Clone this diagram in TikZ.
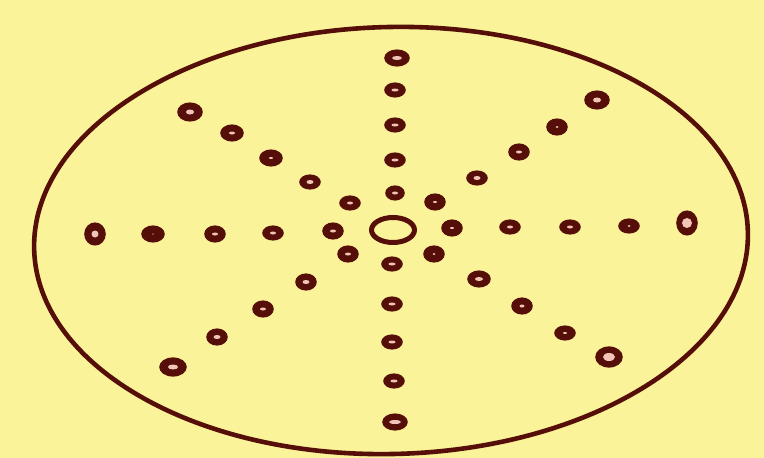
\documentclass[tikz,border=0pt]{standalone}
\definecolor{bg}{HTML}{FAF39A}
\definecolor{ink}{HTML}{560F08}
\definecolor{hl}{HTML}{F2C4B8}
\tikzset{
  plate/.style={draw=ink, line width=4.6pt},
  holefill/.style={fill=ink},
  shine/.style={fill=hl},
  ring/.style={draw=ink, line width=5pt}
}
% \hole{x}{y}{rx}{ry}{highlight rx}{highlight ry}
\newcommand{\hole}[6]{%
  \fill[holefill] (#1,-#2) ellipse [x radius=#3+0.8, y radius=#4+0.6];
  \fill[shine] (#1,-#2) ellipse [x radius=#5, y radius=#6];
}
\begin{document}
\begin{tikzpicture}[x=1pt,y=1pt]
\useasboundingbox (0,0) rectangle (764,-458);
\fill[bg] (0,0) rectangle (764,-458);
% plate outline
\draw[plate, rotate around={1.4:(391,-240)}] (391,-240.5) ellipse [x radius=357, y radius=213.5];
% centre ring
\draw[ring] (393,-230) ellipse [x radius=21.5, y radius=12.5];
% vertical axis
\hole{397}{58}{12}{8}{5}{2}
\hole{395}{90}{10}{7}{3.5}{1.5}
\hole{395}{125}{10}{7}{3.5}{1.5}
\hole{395}{160}{10}{7}{3.5}{1.5}
\hole{395}{193}{9}{7}{3}{1.5}
\hole{392}{264}{10}{7}{3.5}{1.5}
\hole{392}{304}{10}{7}{3.5}{1.5}
\hole{392}{342}{10}{7}{3.5}{1.5}
\hole{394}{381}{10}{7}{3.5}{1.5}
\hole{395}{422}{12}{8}{6}{2}
% horizontal axis
\hole{95}{234}{10}{11}{3.5}{3.5}
\hole{153}{234}{11}{8}{1}{0.5}
\hole{215}{234}{10}{8}{3}{1.5}
\hole{273}{233}{10}{7}{3}{1.5}
\hole{333}{231}{10}{8}{3}{1.5}
\hole{452}{228}{10}{8}{2}{1}
\hole{510}{227}{10}{7}{3}{1.5}
\hole{570}{227}{10}{7}{3}{1.5}
\hole{629}{226}{10}{7}{1.5}{1}
\hole{687}{223}{10}{12}{5}{5}
% north-west
\hole{190}{112}{12}{9}{4}{2.5}
\hole{232}{133}{11}{8}{3}{1.5}
\hole{271}{158}{11}{8}{2}{1}
\hole{310}{182}{10}{7}{3.5}{2}
\hole{350}{203}{10}{7}{3}{1.5}
% north-east
\hole{597}{100}{12}{9}{4}{2.5}
\hole{557}{127}{10}{8}{1.5}{1}
\hole{519}{152}{10}{8}{3}{1.5}
\hole{477}{178}{10}{7}{3.5}{2}
\hole{435}{202}{10}{8}{2}{1}
% south-west
\hole{348}{254}{10}{8}{3}{1.5}
\hole{306}{282}{10}{8}{3.5}{2}
\hole{263}{309}{10}{8}{3}{1.5}
\hole{217}{337}{10}{8}{3.5}{2}
\hole{173}{367}{13}{9}{5}{2.5}
% south-east
\hole{434}{254}{10}{8}{1.5}{1}
\hole{479}{279}{11}{8}{4}{2}
\hole{522}{306}{10}{8}{2.5}{1.5}
\hole{565}{333}{10}{7}{2}{1}
\hole{609}{357}{13}{10}{6}{4}
\end{tikzpicture}
\end{document}
